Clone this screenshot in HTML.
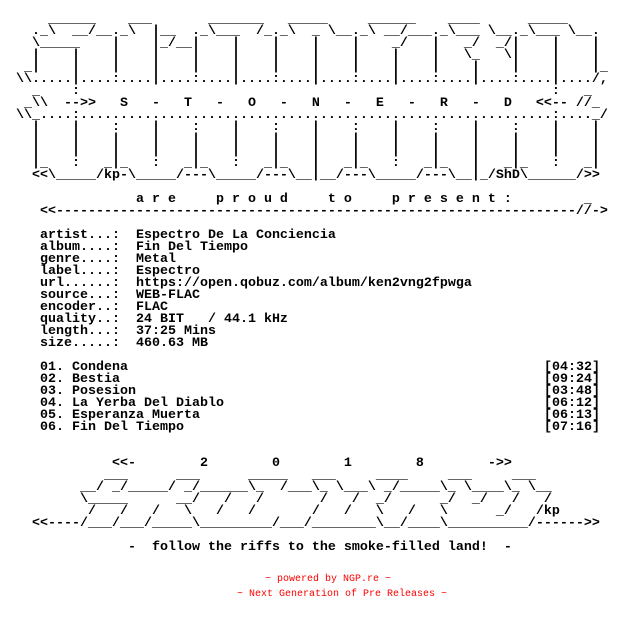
<!DOCTYPE html>
<html><head><meta charset="utf-8"><style>
html,body{margin:0;padding:0;background:#fff;width:624px;height:624px;overflow:hidden;position:relative}
pre{margin:0;position:absolute;left:0;top:2px;font-family:"Liberation Mono",monospace;font-size:13.33px;line-height:12px;font-weight:bold;color:#000;white-space:pre}
.red{position:absolute;font-family:"Liberation Mono",monospace;font-size:10px;line-height:15px;color:#f00;white-space:pre}
</style></head><body>
<pre>

      ______    ___       _______   _____     ______    ____      _____
    ._\  __/__._\  |__  ._\___  /_._\  _ \__._\ __/___._\___ \__._\___ \__.
    \_____    |    |_/__|    |    |    |    |    _/   |   _/  _/|    |    |
    |    |    |    |    |    |    |    |    |    |    |   \_   \|    |    |
   _|    |    |    |    |    |    |    |    |    |    |    |    |    |    |_
  \\.....|....:....|....:....|....:....|....:....|....:....|....:....|..../,
    _    :                                                           :   _
   _\\  -->>   S   -   T   -   O   -   N   -   E   -   R   -   D   &lt;&lt;-- //_
  \\_....:...........................................................:...._/
    |    |    :    |    :    |    :    |    :    |    :    |    :    |    |
    |    |    |    |    |    |    |    |    |    |    |    |    |    |    |
    |    |    |    |    |    |    |    |    |    |    |    |    |    |    |
    |_   :   _|_   :   _|_   :   _|_   |   _|_   :   _|_   |   _|_   :   _|
    &lt;&lt;\_____/kp-\_____/---\_____/---\__|__/---\_____/---\__|_/ShD\______/&gt;&gt;

                 a r e     p r o u d     t o     p r e s e n t :         _
     &lt;&lt;-----------------------------------------------------------------//-&gt;

     artist...:  Espectro De La Conciencia
     album....:  Fin Del Tiempo
     genre....:  Metal
     label....:  Espectro
     url......:  https://open.qobuz.com/album/ken2vng2fpwga
     source...:  WEB-FLAC
     encoder..:  FLAC
     quality..:  24 BIT   / 44.1 kHz
     length...:  37:25 Mins
     size.....:  460.63 MB

     01. Condena
     02. Bestia
     03. Posesion
     04. La Yerba Del Diablo
     05. Esperanza Muerta
     06. Fin Del Tiempo


              &lt;&lt;-        2        0        1        8        -&gt;&gt;
             ___      ___      _____   ___     ____     ___     ___
          __/ _/_____/ _/______\_  /___\_ \___\ _/_____\_ \____\_ \__
          \_____      __/   /   /       /   /  _/      _/  _/   /   /
           /   /   /   \   /   /       /   /   \   /   \      _/   /kp
    &lt;&lt;----/___/___/_____\_________/___/________\__/____\__________/------&gt;&gt;

                -  follow the riffs to the smoke-filled land!  -
</pre>
<pre style="left:544px;top:362px">[04:32]
[09:24]
[03:48]
[06:12]
[06:13]
[07:16]</pre>
<div class="red" style="left:265px;top:572px">~ powered by NGP.re ~</div>
<div class="red" style="left:237px;top:587px">~ Next Generation of Pre Releases ~</div>
</body></html>
